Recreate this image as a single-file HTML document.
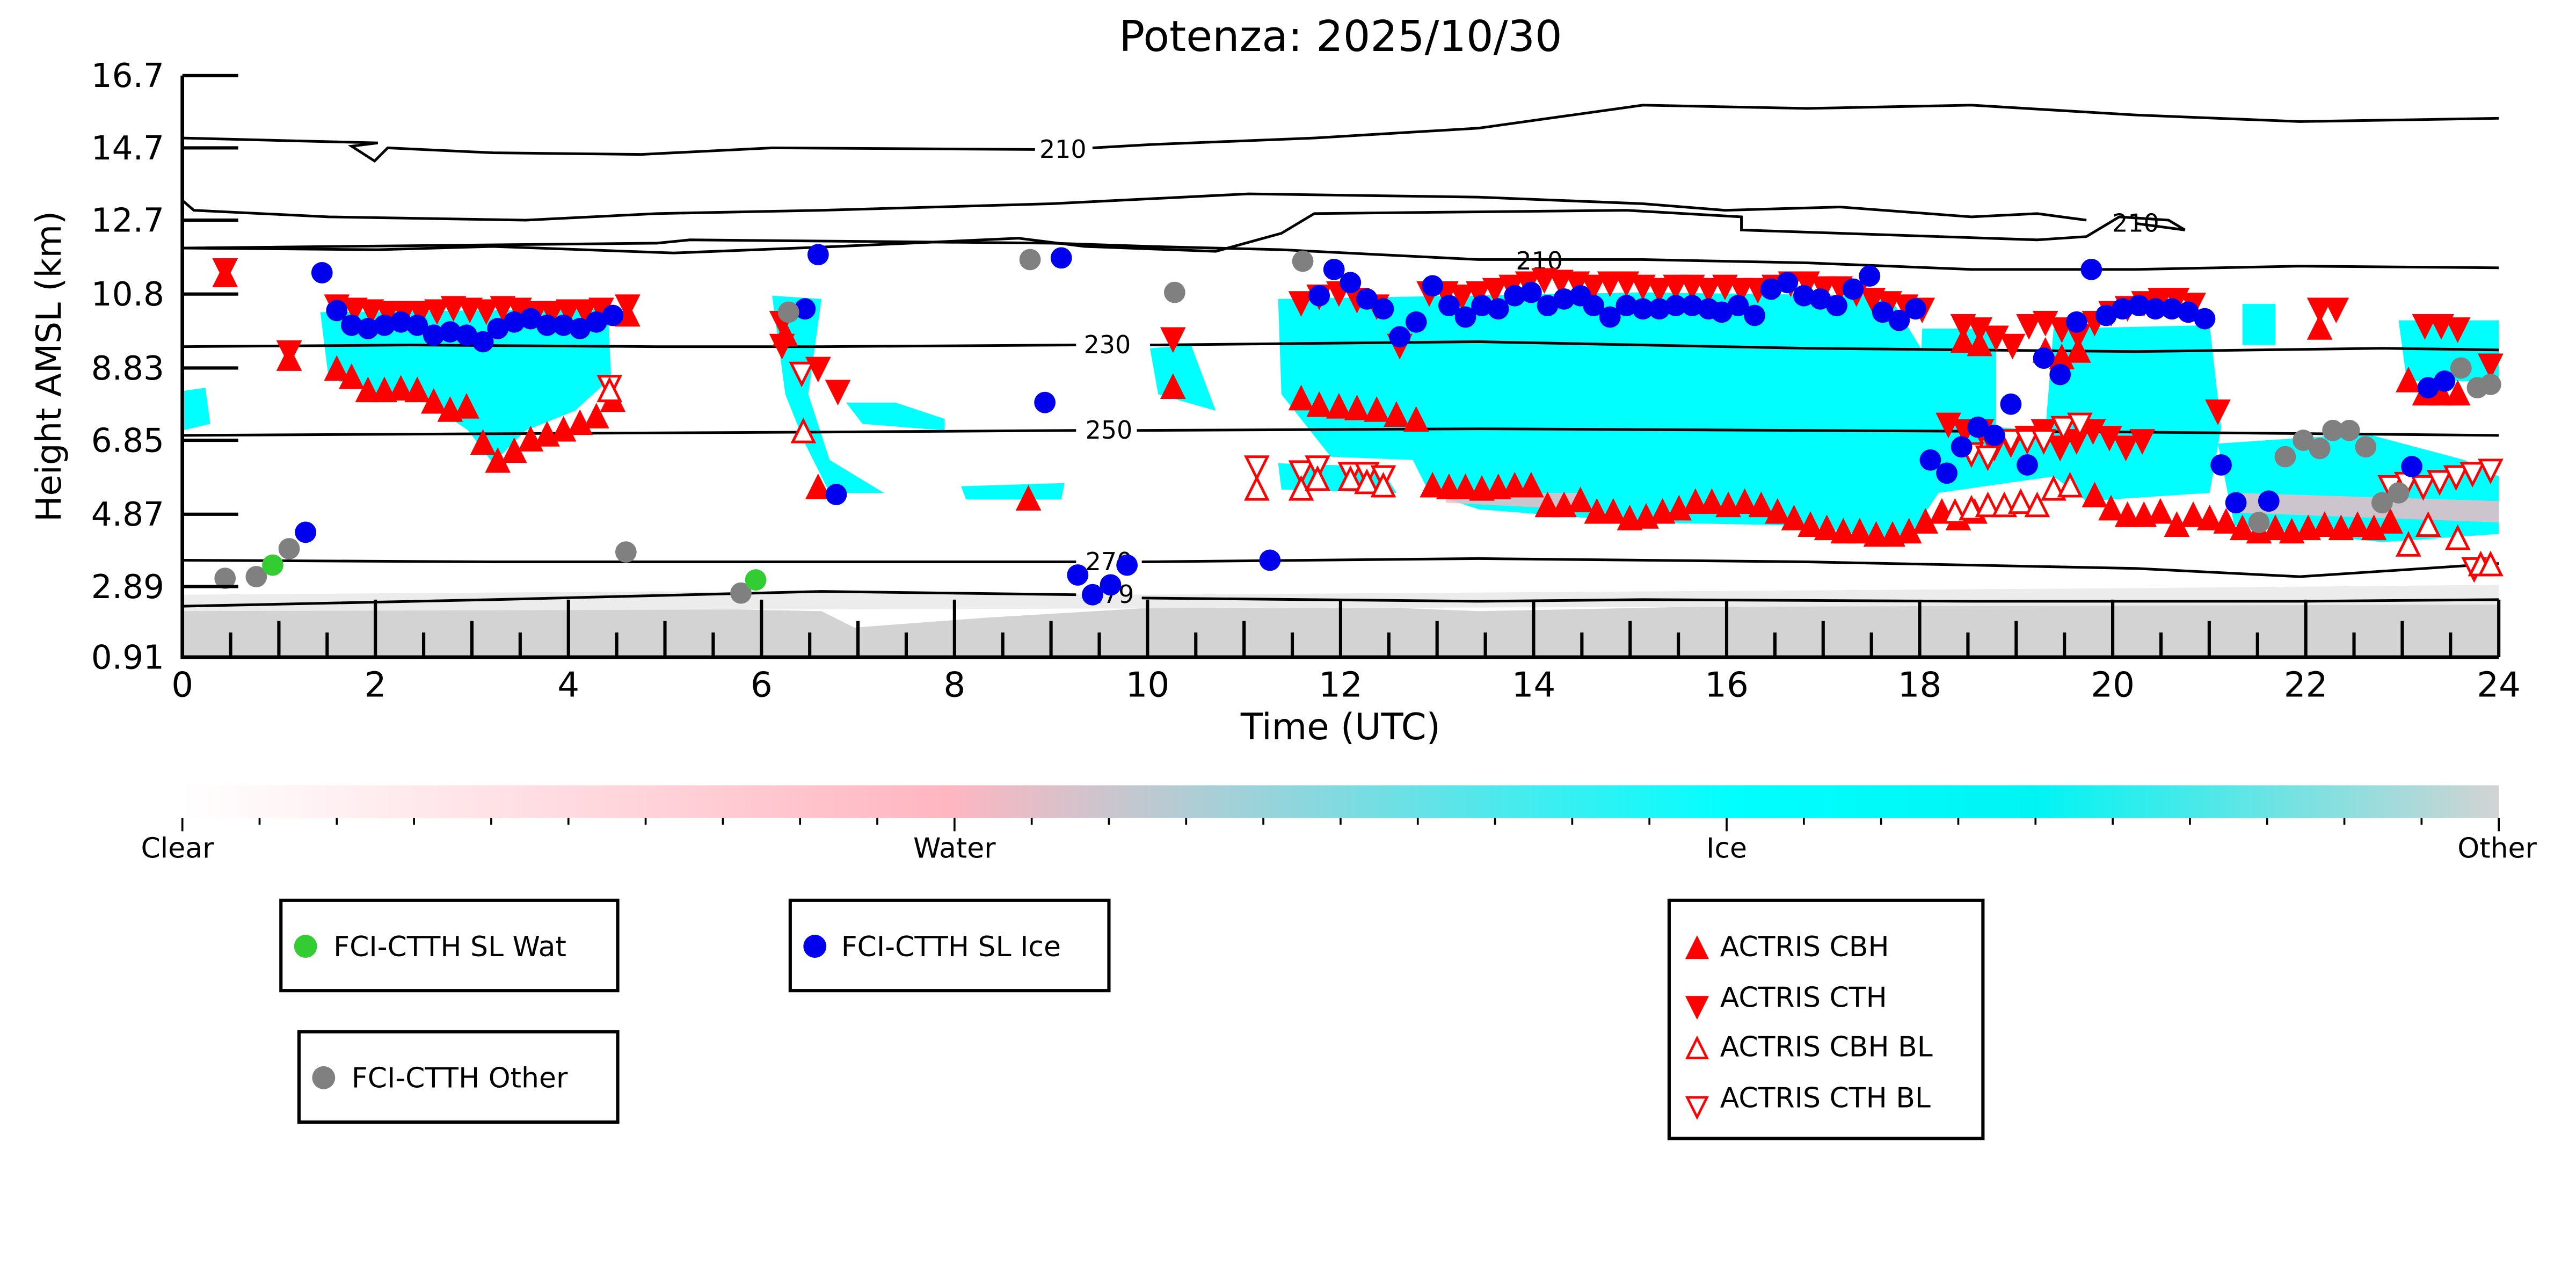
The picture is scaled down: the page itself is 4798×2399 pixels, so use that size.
<!DOCTYPE html>
<html><head><meta charset="utf-8"><style>html,body{margin:0;padding:0;background:#fff}svg{display:block}</style></head>
<body>
<svg id="s" xmlns="http://www.w3.org/2000/svg" width="4798" height="2399" viewBox="0 0 1568 784" preserveAspectRatio="none" font-family="DejaVu Sans, Liberation Sans, sans-serif">
<defs>
<linearGradient id="cb" x1="0" x2="1" y1="0" y2="0">
<stop offset="0" stop-color="#ffffff"/><stop offset="0.33" stop-color="#ffb6c1"/><stop offset="0.67" stop-color="#00ffff"/><stop offset="0.8" stop-color="#00f4f4"/><stop offset="1" stop-color="#d3d3d3"/>
</linearGradient>
</defs>
<rect width="1568" height="784" fill="#fff"/>
<text x="816" y="31" font-size="26" text-anchor="middle">Potenza: 2025/10/30</text>
<!-- ground -->
<path d="M111,372 L300,368 L500,372 L520,382 L600,376 L700,370 L800,368 L900,372 L1000,370 L1100,368 L1300,366 L1521,364 L1521,400 L111,400Z" fill="#d3d3d3"/>
<path d="M111,362 L400,360 L700,362 L1000,360 L1300,358 L1521,356 L1521,368 L111,372Z" fill="#ececec"/>
<!-- cyan clouds -->
<g fill="#00ffff">
<path d="M195,190 L370,188 L372,230 L350,250 L320,262 L300,282 L285,262 L260,245 L230,240 L200,230Z"/>
<path d="M111,238 L125,236 L128,258 L111,262Z"/>
<path d="M470,180 L500,182 L492,240 L505,280 L538,300 L505,300 L490,270 L478,240Z"/>
<path d="M515,245 L545,245 L575,255 L575,262 L525,258Z"/>
<path d="M585,296 L648,294 L646,304 L588,304Z"/>
<path d="M700,212 L725,210 L740,250 L705,240Z"/>
<path d="M778,182 L1000,178 L1150,180 L1180,230 L1180,300 L1160,330 L1100,320 L1000,318 L900,310 L870,300 L860,280 L810,278 L780,240Z"/>
<path d="M778,282 L840,284 L850,300 L780,298Z"/>
<path d="M1170,200 L1215,200 L1215,260 L1245,262 L1250,200 L1345,198 L1352,260 L1345,300 L1270,305 L1250,290 L1180,300 L1168,260Z"/>
<path d="M1350,270 L1440,264 L1500,280 L1521,290 L1521,325 L1450,330 L1360,320Z"/>
<path d="M1460,195 L1521,195 L1521,232 L1465,232Z"/>
<path d="M1365,185 L1385,185 L1385,210 L1365,210Z"/>
</g>
<g fill="#ffb6c1" opacity="0.8">
<path d="M1360,300 L1521,305 L1521,318 L1360,312Z"/>
<path d="M880,300 L960,300 L960,310 L880,306Z"/>
</g>
<!-- contours -->
<g fill="none" stroke="#000" stroke-width="1.6">
<path d="M111,84 L230,87 L214,89 L228,98 L236,90 L300,93 L390,94 L470,90 L630,91"/>
<path d="M665,90 L700,88 L800,84 L900,78 L1000,64 L1100,66 L1200,64 L1300,70 L1400,74 L1521,72"/>
<path d="M111,122 L118,128 L200,132 L320,134 L400,130 L500,128 L640,124 L760,118 L900,120 L1000,124 L1050,128 L1120,126 L1200,132 L1240,130 L1270,134"/>
<path d="M1300,136 L1330,140"/>
<path d="M111,151 L230,152 L300,150 L410,154 L510,150 L620,145 L660,150 L740,153 L780,142 L800,130 L990,128 L1060,132 L1060,140 L1240,146 L1270,144 L1290,132 L1320,134 L1330,140"/>
<path d="M111,151 L400,148 L420,146 L640,148 L700,150 L780,152 L900,158 L1000,158 L1100,160 L1200,164 L1300,164 L1400,162 L1521,163"/>
<path d="M111,211 L250,210 L400,211 L500,211 L655,210 M700,210 L900,208 L1100,212 L1300,214 L1450,212 L1521,213"/>
<path d="M111,265 L300,264 L500,263 L655,262 M692,262 L900,261 L1100,262 L1300,263 L1521,265"/>
<path d="M111,341 L300,342 L500,342 L655,342 M695,342 L900,340 L1100,342 L1300,346 L1400,351 L1521,343"/>
<path d="M111,369 L300,365 L500,360 L655,362 M695,364 L900,366 L1000,365 L1200,366 L1400,366 L1521,365"/>
</g>
<g font-size="15" text-anchor="middle">
<text x="647" y="96">210</text><text x="937" y="164">210</text><text x="1300" y="141">210</text>
<text x="674" y="215">230</text><text x="675" y="267">250</text><text x="675" y="347">270</text><text x="676" y="367">279</text>
</g>
<g id="mk"></g>
<!-- axes -->
<g stroke="#000" stroke-width="2.2">
<line x1="111" y1="46" x2="111" y2="401"/><line x1="110" y1="400" x2="1521" y2="400"/>
</g>
<g id="ticks" stroke="#000" stroke-width="2"></g>
<g font-size="20" text-anchor="end">
<text x="100" y="53">16.7</text><text x="100" y="97">14.7</text><text x="100" y="141">12.7</text><text x="100" y="186">10.8</text><text x="100" y="231">8.83</text><text x="100" y="275">6.85</text><text x="100" y="320">4.87</text><text x="100" y="364">2.89</text><text x="100" y="407">0.91</text>
</g>
<g id="xl" font-size="21" text-anchor="middle"></g>
<text x="816" y="450" font-size="22" text-anchor="middle">Time (UTC)</text>
<text transform="translate(37,223) rotate(-90)" font-size="21" text-anchor="middle">Height AMSL (km)</text>
<!-- colorbar -->
<rect x="111" y="478" width="1410" height="20" fill="url(#cb)"/>
<g id="cbt" stroke="#000" stroke-width="1.2"></g>
<g font-size="17" text-anchor="middle">
<text x="108" y="522">Clear</text><text x="581" y="522">Water</text><text x="1051" y="522">Ice</text><text x="1520" y="522">Other</text>
</g>
<!-- legends -->
<g fill="none" stroke="#000" stroke-width="2">
<rect x="171" y="548" width="205" height="55"/><rect x="481" y="548" width="194" height="55"/>
<rect x="182" y="628" width="194" height="55"/><rect x="1016" y="548" width="191" height="145"/>
</g>
<circle cx="186" cy="576" r="7" fill="#33cc33"/><circle cx="496" cy="576" r="7" fill="#0000ee"/><circle cx="197" cy="656" r="7" fill="#808080"/>
<g font-size="17">
<text x="203" y="582">FCI-CTTH SL Wat</text><text x="512" y="582">FCI-CTTH SL Ice</text><text x="214" y="662">FCI-CTTH Other</text>
<text x="1047" y="582">ACTRIS CBH</text><text x="1047" y="613">ACTRIS CTH</text><text x="1047" y="643">ACTRIS CBH BL</text><text x="1047" y="674">ACTRIS CTH BL</text>
</g>
<g fill="red" stroke="red" stroke-width="1.5">
<path d="M1027,583 L1039,583 L1033,571Z"/><path d="M1027,607 L1039,607 L1033,619Z"/>
<path d="M1027,644 L1039,644 L1033,632Z" fill="none"/><path d="M1027,668 L1039,668 L1033,680Z" fill="none"/>
</g>
</svg>
<script>
var NS="http://www.w3.org/2000/svg",mk=document.getElementById('mk');
function el(t,a,p){var e=document.createElementNS(NS,t);for(var k in a)e.setAttribute(k,a[k]);(p||mk).appendChild(e);return e;}
function X(h){return 111+58.75*h;}
function up(x,y,f){el('path',{d:'M'+(x-6.5)+','+(y+6)+' L'+(x+6.5)+','+(y+6)+' L'+x+','+(y-7)+'Z',fill:f?'red':'#fff',stroke:'red','stroke-width':1.6});}
function dn(x,y,f){el('path',{d:'M'+(x-6.5)+','+(y-6)+' L'+(x+6.5)+','+(y-6)+' L'+x+','+(y+7)+'Z',fill:f?'red':'#fff',stroke:'red','stroke-width':1.6});}
function dot(x,y,c){el('circle',{cx:x,cy:y,r:6.5,fill:c});}
var cth=[[137,164],[176,214],[205,186],[216,188],[226,189],[236,190],[246,190],[256,190],[266,189],[276,187],[286,188],[296,189],[306,187],[316,188],[326,190],[336,190],[346,189],[356,189],[366,188],[382,186],[476,196],[498,224],[510,238],[476,210],[714,206],
[792,184],[803,180],[815,178],[826,182],[838,186],[852,210],[870,178],[880,178],[890,180],[900,178],[910,176],[920,174],[930,172],[940,170],[950,171],[960,172],[970,174],[980,172],[990,172],[1000,174],[1010,176],[1020,174],[1030,174],[1040,176],[1050,174],[1060,176],[1070,176],[1080,174],[1090,172],[1100,172],[1110,175],[1120,175],[1130,178],[1140,182],[1150,184],[1160,186],[1170,188],
[1195,198],[1205,200],[1215,205],[1225,210],[1235,198],[1245,196],[1255,200],[1265,204],[1275,196],[1285,190],[1295,187],[1305,184],[1315,182],[1325,182],[1335,185],[1350,250],[1412,188],[1422,188],[1476,198],[1486,198],[1496,200],[1516,222],
[1186,258],[1196,262],[1206,262],[1214,272],[1224,270],[1234,266],[1244,262],[1254,272],[1264,268],[1274,262],[1284,266],[1294,272],[1304,268]];
cth.forEach(function(p){dn(p[0],p[1],1);});
var cbh=[[137,168],[176,219],[205,225],[214,230],[224,238],[234,238],[244,237],[254,238],[264,245],[274,250],[284,248],[294,270],[303,281],[313,275],[323,268],[333,265],[343,262],[353,258],[363,254],[373,244],[382,192],[478,204],[498,297],[714,236],[626,304],
[792,243],[803,247],[815,248],[826,249],[838,250],[850,253],[862,256],[872,296],[882,297],[892,297],[902,298],[912,297],[922,296],[932,296],[942,308],[952,308],[962,305],[972,312],[982,312],[992,316],[1002,315],[1012,312],[1022,310],[1032,306],[1042,306],[1052,308],[1062,306],[1072,308],[1082,312],[1092,316],[1102,320],[1112,322],[1122,324],[1132,324],[1142,326],[1152,326],[1162,324],[1172,318],[1182,312],[1192,316],[1202,312],
[1195,208],[1205,210],[1245,214],[1255,218],[1265,214],[1275,302],[1285,310],[1295,314],[1305,314],[1315,312],[1325,320],[1335,314],[1345,316],[1355,318],[1365,322],[1375,324],[1385,322],[1395,324],[1405,322],[1415,320],[1425,322],[1435,320],[1445,322],[1455,318],[1412,200],[1466,232],[1476,240],[1486,240],[1496,240]];
cbh.forEach(function(p){up(p[0],p[1],1);});
var ctb=[[371,235],[488,227],[765,284],[792,287],[802,284],[822,288],[832,288],[842,290],[1200,276],[1210,278],[1224,268],[1234,268],[1244,268],[1256,260],[1266,258],[1455,296],[1465,294],[1475,296],[1485,293],[1495,290],[1505,288],[1516,286],[1506,346]];
ctb.forEach(function(p){dn(p[0],p[1],0);});
var cbb=[[371,238],[489,263],[765,298],[792,298],[802,292],[822,292],[832,294],[842,296],[1190,312],[1200,310],[1210,308],[1220,308],[1230,306],[1240,308],[1250,298],[1260,296],[1466,332],[1478,320],[1496,328],[1510,344],[1516,344]];
cbb.forEach(function(p){up(p[0],p[1],0);});
var blue=[[196,166],[205,189],[214,198],[224,200],[234,198],[244,196],[254,198],[264,204],[274,202],[284,204],[294,208],[303,200],[313,196],[323,194],[333,198],[343,198],[353,200],[363,196],[373,192],[186,324],[490,188],[498,155],[509,301],[636,245],[646,157],[656,350],[665,362],[676,356],[686,344],[773,341],
[803,180],[812,164],[822,172],[832,182],[842,188],[852,205],[862,196],[872,174],[882,186],[892,193],[902,186],[912,188],[922,180],[932,178],[942,186],[952,182],[962,180],[970,186],[980,193],[990,186],[1000,188],[1010,188],[1020,186],[1030,186],[1040,188],[1048,190],[1058,186],[1068,192],[1078,176],[1088,172],[1098,180],[1108,182],[1118,186],[1128,176],[1138,168],[1146,190],[1156,195],[1166,188],
[1175,280],[1185,288],[1194,272],[1204,260],[1214,265],[1224,246],[1234,283],[1244,218],[1254,228],[1264,196],[1273,164],[1282,192],[1292,188],[1302,186],[1312,188],[1322,188],[1332,190],[1342,194],[1352,283],[1361,306],[1381,305],[1468,284],[1478,236],[1488,232]];
blue.forEach(function(p){dot(p[0],p[1],'#0000ee');});
var gray=[[137,352],[156,351],[176,334],[381,336],[451,361],[480,190],[627,158],[715,178],[793,159],[1375,318],[1391,278],[1402,268],[1412,273],[1420,262],[1430,262],[1440,272],[1450,306],[1460,300],[1498,224],[1508,236],[1516,234]];
gray.forEach(function(p){dot(p[0],p[1],'#808080');});
dot(166,344,'#33cc33');dot(460,353,'#33cc33');
var tk=document.getElementById('ticks');
[46,90,134,179,224,268,313,357,400].forEach(function(y){el('line',{x1:111,y1:y,x2:145,y2:y},tk);});
for(var i=0;i<=48;i++){var x=X(i/2),L=(i%4==0)?35:(i%2==0?22:15);el('line',{x1:x,y1:400,x2:x,y2:400-L},tk);}
var xl=document.getElementById('xl');
for(var h=0;h<=24;h+=2){var t=el('text',{x:X(h),y:424},xl);t.textContent=h;}
var cbt=document.getElementById('cbt');
for(var i=0;i<=30;i++){var x=111+1410*i/30;el('line',{x1:x,y1:498,x2:x,y2:(i%10==0)?506:502},cbt);}
</script>
</body></html>
